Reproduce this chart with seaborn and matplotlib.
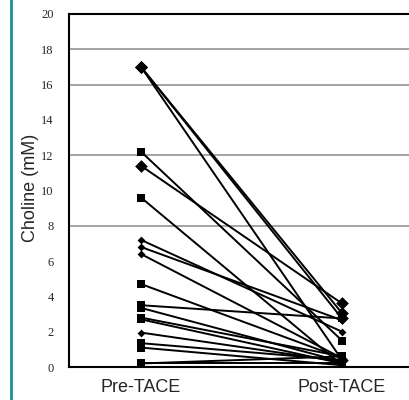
import pandas as pd
import matplotlib.pyplot as plt
import seaborn as sns
from matplotlib.lines import Line2D

sns.set_theme(style="white")

# Valori (mM), una coppia per paziente
pre_tace = [17.0, 17.0, 17.0, 12.2, 11.4, 9.6, 7.2, 6.8, 6.4, 4.7,
            3.5, 3.35, 2.8, 2.7, 1.95, 1.35, 1.1, 0.2, 0.2]
post_tace = [3.05, 2.75, 0.4, 1.5, 3.6, 0.1, 2.0, 2.65, 0.5, 0.5,
             2.75, 0.3, 0.6, 0.2, 0.3, 0.4, 0.1, 0.6, 0.2]
shape = ['big', 'big', 'big', 'sq', 'big', 'sq', 'small', 'small', 'small', 'sq',
         'sq', 'sq', 'sq', 'sq', 'small', 'sq', 'sq', 'sq', 'sq']
time_labels = ['Pre-TACE', 'Post-TACE']
y_ticks = [0, 2, 4, 6, 8, 10, 12, 14, 16, 18, 20]
grid_levels = [8, 12, 16, 18]

# Tabella lunga
rows = []
for i, (a, b, s) in enumerate(zip(pre_tace, post_tace, shape)):
    rows.append({'paziente': i, 'x': 0, 'valore': a, 'forma': s})
    rows.append({'paziente': i, 'x': 1, 'valore': b, 'forma': s})
df = pd.DataFrame(rows)

fig = plt.figure(figsize=(4.1, 4.0), dpi=100)
ax = fig.add_axes([69 / 410, 33 / 400, 341 / 410, 353 / 400])

# Linee guida orizzontali
for g in grid_levels:
    ax.axhline(g, color='#8c8c8c', lw=1.1, zorder=0)

sns.lineplot(data=df, x='x', y='valore', units='paziente', estimator=None,
             color='black', lw=1.4, ax=ax, legend=False)

marker_map = {'sq': ('s', 38), 'big': ('D', 42), 'small': ('D', 16)}
for forma, (m, size) in marker_map.items():
    sub = df[df['forma'] == forma]
    sns.scatterplot(data=sub, x='x', y='valore', marker=m, s=size,
                    color='black', linewidth=0, ax=ax, legend=False, zorder=3)

ax.set_xlim(-72 / 201, 1 + 68 / 201)
ax.set_ylim(0, 20)
ax.set_xticks([0, 1])
ax.set_xticklabels(time_labels, fontsize=13, family='Liberation Sans')
ax.set_yticks(y_ticks)
ax.set_yticklabels([str(t) for t in y_ticks], fontsize=9, family='Liberation Serif')
ax.tick_params(axis='y', length=0, pad=11)
ax.tick_params(axis='x', length=0, pad=9)
ax.set_xlabel('')
ax.set_ylabel('')
fig.text(31 / 410, 1 - 188 / 400, 'Choline (mM)', rotation=90, ha='center', va='center',
         fontsize=13, family='Liberation Sans')

for side in ['left', 'top', 'bottom']:
    ax.spines[side].set_color('black')
    ax.spines[side].set_linewidth(1.5)
ax.spines['right'].set_visible(False)

# Barra verticale a sinistra
fig.add_artist(Line2D([11 / 410, 11 / 410], [0, 1], color='#1f8e99', lw=2.0))

plt.savefig('out.png', dpi=100)
